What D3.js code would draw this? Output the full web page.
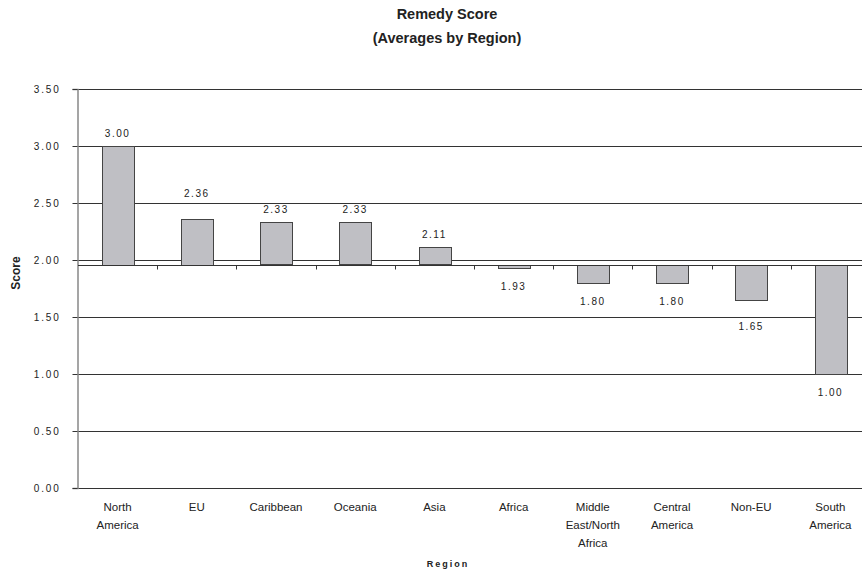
<!DOCTYPE html>
<html>
<head>
<meta charset="utf-8">
<script src="https://cdn.jsdelivr.net/npm/d3@7"></script>
<style>
  html, body { margin: 0; padding: 0; background: #fff; }
  svg { display: block; }
</style>
</head>
<body>
<svg id="chart" width="862" height="575"></svg>
<script>
// Region averages of the remedy score
const regions = [
  ["North", "America"], ["EU"], ["Caribbean"], ["Oceania"], ["Asia"], ["Africa"],
  ["Middle", "East/North", "Africa"], ["Central", "America"], ["Non-EU"], ["South", "America"]
];
const scores = [3.00, 2.36, 2.33, 2.33, 2.11, 1.93, 1.80, 1.80, 1.65, 1.00];
const yTicks = [0, 0.5, 1.0, 1.5, 2.0, 2.5, 3.0, 3.5];
const crossAt = 1.96; // category axis crosses the value axis here

const svg = d3.select("#chart");
const margin = { left: 78, right: 870, top: 89, bottom: 488 };

const x = d3.scaleBand()
  .domain(d3.range(regions.length))
  .range([margin.left, margin.right])
  .paddingInner(0.6).paddingOuter(0.3);
const xb = d3.scaleBand().domain(d3.range(regions.length)).range([margin.left, margin.right]);
const y = d3.scaleLinear().domain([0, 3.5]).range([margin.bottom, margin.top]);

const numFont = "'Liberation Sans', Arial, sans-serif";
const narrowFont = "'Liberation Sans Narrow', 'Arial Narrow', 'Liberation Sans', sans-serif";

// Title
svg.append("text").attr("x", 447).attr("y", 19).attr("text-anchor", "middle")
  .attr("font-family", numFont).attr("font-weight", "bold").attr("font-size", 14.5).attr("fill", "#222")
  .text("Remedy Score");
svg.append("text").attr("x", 447).attr("y", 43).attr("text-anchor", "middle")
  .attr("font-family", numFont).attr("font-weight", "bold").attr("font-size", 14.5).attr("fill", "#222")
  .text("(Averages by Region)");

// Gridlines
svg.append("g").selectAll("line").data(yTicks).join("line")
  .attr("x1", margin.left).attr("x2", margin.right)
  .attr("y1", d => Math.round(y(d)) + 0.5).attr("y2", d => Math.round(y(d)) + 0.5)
  .attr("stroke", "#333").attr("stroke-width", 1);

// Value axis
const yAxis = svg.append("g").attr("transform", `translate(${margin.left - 0.5},0)`)
  .call(d3.axisLeft(y).tickValues(yTicks).tickFormat(d3.format(".2f")).tickSize(5).tickPadding(12));
yAxis.select(".domain").attr("stroke", "#888").attr("stroke-width", 1.5);
yAxis.selectAll(".tick line").attr("stroke", "#333");
yAxis.selectAll(".tick text").attr("font-family", numFont).attr("font-size", 10)
  .attr("letter-spacing", "1.8px").attr("fill", "#222");

// Bars grow from the crossing value
svg.append("g").selectAll("rect").data(scores).join("rect")
  .attr("x", (d, i) => Math.round(x(i)) + 0.5)
  .attr("width", Math.round(x.bandwidth()))
  .attr("y", d => Math.round(y(Math.max(d, crossAt))) + 0.5)
  .attr("height", d => Math.max(1, Math.round(Math.abs(y(d) - y(crossAt)))))
  .attr("fill", "#bfbfc4").attr("stroke", "#444").attr("stroke-width", 1);

// Category axis at the crossing value
const xAxisY = Math.round(y(crossAt)) + 0.5;
svg.append("line").attr("x1", margin.left).attr("x2", margin.right)
  .attr("y1", xAxisY).attr("y2", xAxisY).attr("stroke", "#333");
svg.append("g").selectAll("line").data(d3.range(1, regions.length)).join("line")
  .attr("x1", i => Math.round(xb(i)) + 0.5).attr("x2", i => Math.round(xb(i)) + 0.5)
  .attr("y1", xAxisY).attr("y2", xAxisY + 4).attr("stroke", "#333");

// Value labels; a label that a gridline would cross is moved clear of it
function labelY(d) {
  const gy = t => Math.round(y(t)) + 0.5;
  if (d < crossAt) {
    let base = y(d) + 22;
    const hit = yTicks.find(t => gy(t) > base - 9 && gy(t) < base + 1 && Math.abs(gy(t) - y(d)) > 3);
    if (hit !== undefined) base = gy(hit) + 12;
    return base;
  }
  let base = y(d) - 9;
  const hit = yTicks.find(t => gy(t) > base - 8 && gy(t) < base + 2);
  if (hit !== undefined) base = gy(hit) - 7;
  return base;
}
svg.append("g").selectAll("text").data(scores).join("text")
  .attr("x", (d, i) => x(i) + x.bandwidth() / 2)
  .attr("y", labelY)
  .attr("text-anchor", "middle")
  .attr("font-family", numFont).attr("font-size", 10).attr("letter-spacing", "1.5px").attr("fill", "#222")
  .text(d => d3.format(".2f")(d));

// Category labels
const cat = svg.append("g").selectAll("text").data(regions).join("text")
  .attr("text-anchor", "middle")
  .attr("font-family", narrowFont).attr("font-size", 11.5).attr("fill", "#222");
cat.each(function(lines, i) {
  d3.select(this).selectAll("tspan").data(lines).join("tspan")
    .attr("x", xb(i) + xb.bandwidth() / 2)
    .attr("y", (l, j) => 511 + j * 18)
    .text(l => l);
});

// Axis titles
svg.append("text").attr("transform", "translate(20,273) rotate(-90)").attr("text-anchor", "middle")
  .attr("font-family", numFont).attr("font-weight", "bold").attr("font-size", 12).attr("fill", "#222")
  .text("Score");
svg.append("text").attr("x", 448).attr("y", 567).attr("text-anchor", "middle")
  .attr("font-family", numFont).attr("font-weight", "bold").attr("font-size", 9)
  .attr("letter-spacing", "2px").attr("fill", "#222")
  .text("Region");
</script>
</body>
</html>
